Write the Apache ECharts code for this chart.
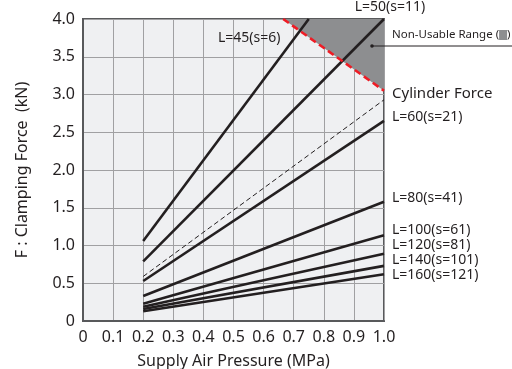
<!DOCTYPE html>
<html>
<head>
<meta charset="utf-8">
<script src="https://cdn.jsdelivr.net/npm/echarts@6/dist/echarts.min.js"></script>
<style>html,body{margin:0;padding:0;background:#fff}#c{width:512px;height:369px}</style>
</head>
<body>
<div id="c"></div>
<script>
// ---- data ----
const lineNames   = ['L=45(s=6)','L=50(s=11)','Cylinder Force','L=60(s=21)','L=80(s=41)','L=100(s=61)','L=120(s=81)','L=140(s=101)','L=160(s=121)'];
const lineStartX  = [0.2, 0.2, 0.2, 0.2, 0.2, 0.2, 0.2, 0.2, 0.2];
const lineStartY  = [1.06, 0.79, 0.59, 0.53, 0.33, 0.23, 0.19, 0.16, 0.13];
const lineEndX    = [0.75, 1.0, 1.0, 1.0, 1.0, 1.0, 1.0, 1.0, 1.0];
const lineEndY    = [4.0, 4.0, 2.93, 2.65, 1.58, 1.135, 0.89, 0.73, 0.62];
const nonUsableX  = [0.665, 1.0, 1.0];
const nonUsableY  = [4.0, 4.0, 3.05];
const boundaryX   = [0.665, 1.0];
const boundaryY   = [4.0, 3.05];
const xTicks = ['0','0.1','0.2','0.3','0.4','0.5','0.6','0.7','0.8','0.9','1.0'];
const yTicks = ['0','0.5','1.0','1.5','2.0','2.5','3.0','3.5','4.0'];

const FONT = 'Noto Sans';
const TXT = '#231f20';

const series = [];
series.push({
  type: 'custom',
  silent: true,
  z: 1,
  data: [0],
  renderItem: function (params, api) {
    const pts = nonUsableX.map((x, i) => api.coord([x, nonUsableY[i]]));
    return { type: 'polygon', shape: { points: pts }, style: { fill: '#8d8e90' } };
  }
});
lineNames.forEach((name, i) => {
  const dashed = name === 'Cylinder Force';
  series.push({
    type: 'line',
    name: name,
    symbol: 'none',
    silent: true,
    z: 3,
    lineStyle: { color: TXT, width: dashed ? 1 : 2.6, type: dashed ? [5, 3] : 'solid' },
    data: [[lineStartX[i], lineStartY[i]], [lineEndX[i], lineEndY[i]]]
  });
});
series.push({
  type: 'line',
  symbol: 'none',
  silent: true,
  z: 4,
  lineStyle: { color: '#ee1c25', width: 2.6, type: [7, 4] },
  data: boundaryX.map((x, i) => [x, boundaryY[i]])
});

const chart = echarts.init(document.getElementById('c'), null, { renderer: 'canvas' });
const txt = (text, x, y, size, align) => ({
  type: 'text', x: x, y: y,
  style: { text: text, fill: TXT, font: size + 'px "' + FONT + '"', textAlign: align || 'left', textVerticalAlign: 'middle' },
  z: 10
});
chart.setOption({
  animation: false,
  grid: {
    left: 83, top: 19, right: 128, bottom: 48,
    containLabel: false, outerBoundsMode: 'none',
    show: true, backgroundColor: '#eff0f2', borderColor: '#58595b', borderWidth: 2
  },
  xAxis: {
    type: 'value', min: 0, max: 1, interval: 0.1,
    name: 'Supply Air Pressure (MPa)', nameLocation: 'middle', nameGap: 32,
    nameTextStyle: { fontFamily: FONT, fontSize: 16, color: TXT },
    axisLine: { show: true, lineStyle: { color: '#58595b', width: 2 } },
    axisTick: { show: false },
    axisLabel: { fontFamily: FONT, fontSize: 16, color: TXT, margin: 8,
      formatter: v => xTicks[Math.round(v * 10)] },
    splitLine: { show: true, lineStyle: { color: '#a0a0a2', width: 1 } }
  },
  yAxis: {
    type: 'value', min: 0, max: 4, interval: 0.5,
    name: 'F : Clamping Force  (kN)', nameLocation: 'middle', nameGap: 53,
    nameTextStyle: { fontFamily: FONT, fontSize: 16, color: TXT },
    axisLine: { show: true, lineStyle: { color: '#58595b', width: 2 } },
    axisTick: { show: false },
    axisLabel: { fontFamily: FONT, fontSize: 16, color: TXT, margin: 8,
      formatter: v => yTicks[Math.round(v * 2)] },
    splitLine: { show: true, lineStyle: { color: '#a0a0a2', width: 1 } }
  },
  series: series,
  graphic: [
    txt('L=45(s=6)', 218, 38, 14),
    txt('L=50(s=11)', 390, 7, 14, 'center'),
    { type: 'text', x: 392, y: 35, z: 10,
      style: { text: 'Non-Usable Range ({b|})', fill: TXT, font: '11.5px "' + FONT + '"', textVerticalAlign: 'middle',
        rich: { b: { backgroundColor: '#8d8e90', width: 8, height: 10 } } } },
    { type: 'line', shape: { x1: 372, y1: 46, x2: 512, y2: 46 }, style: { stroke: TXT, lineWidth: 1 }, z: 10 },
    { type: 'circle', shape: { cx: 372, cy: 46, r: 1.8 }, style: { fill: TXT }, z: 10 },
    txt('Cylinder Force', 392, 94, 15),
    txt('L=60(s=21)', 392, 117, 14),
    txt('L=80(s=41)', 392, 198, 14),
    txt('L=100(s=61)', 392, 230, 14),
    txt('L=120(s=81)', 392, 245, 14),
    txt('L=140(s=101)', 392, 260, 14),
    txt('L=160(s=121)', 392, 275, 14)
  ]
});
</script>
</body>
</html>
